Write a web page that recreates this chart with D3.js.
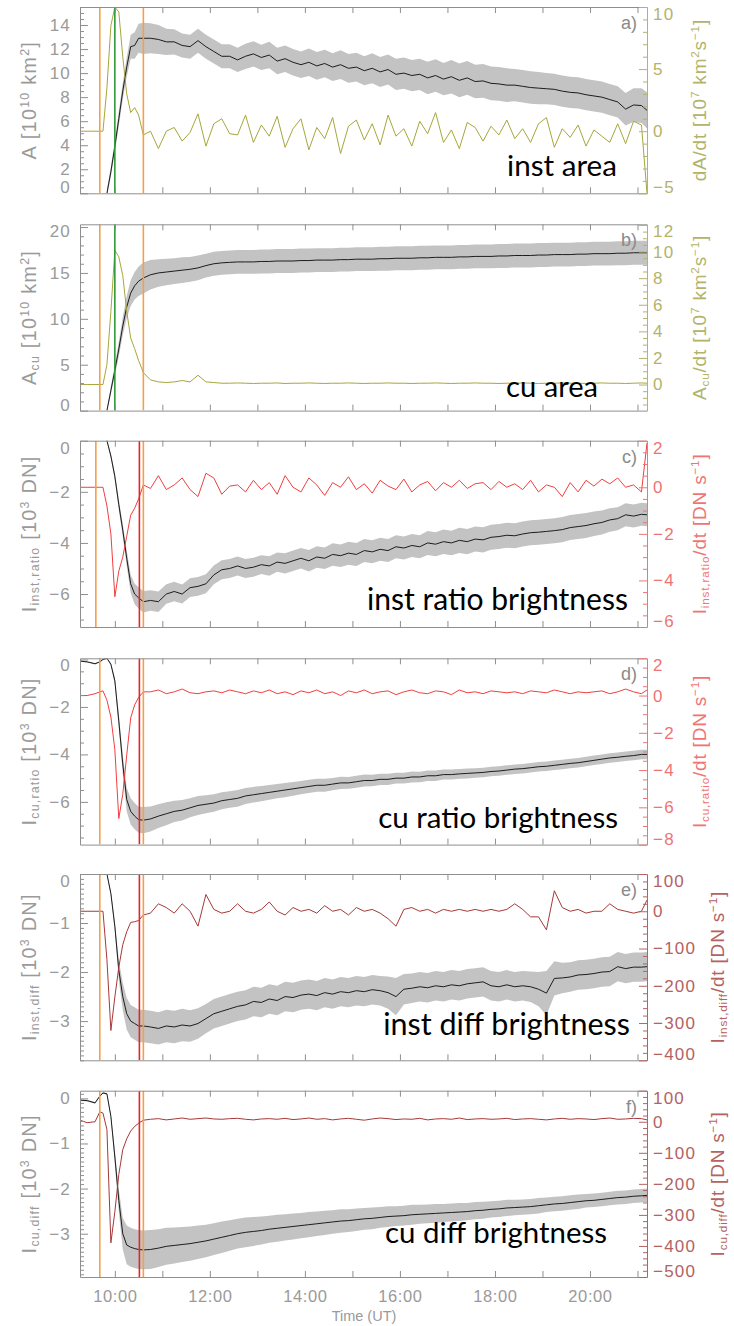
<!DOCTYPE html>
<html><head><meta charset="utf-8">
<script src="https://cdn.jsdelivr.net/npm/d3@7"></script>
<style>body{margin:0;background:#fff}svg{display:block}</style>
</head><body><svg id="c" width="734" height="1326"></svg>
<script>
// ---------- DATA ----------
const times = ["09:16","09:25","09:35","09:41","09:45","09:50","09:55","10:00","10:05","10:10",
"10:15","10:20","10:25","10:30","10:36","10:45","10:55","11:05","11:15","11:25",
"11:35","11:45","11:55","12:05","12:15","12:25","12:35","12:45","12:55","13:05",
"13:15","13:25","13:35","13:45","13:55","14:05","14:15","14:25","14:35","14:45",
"14:55","15:05","15:15","15:25","15:35","15:45","15:55","16:05","16:15","16:25",
"16:35","16:45","16:55","17:05","17:15","17:25","17:35","17:45","17:55","18:05",
"18:15","18:25","18:35","18:45","18:55","19:05","19:15","19:25","19:35","19:45",
"19:55","20:05","20:15","20:25","20:35","20:45","20:55","21:05","21:12"];
const timeTicks = ["10:00","11:00","12:00","13:00","14:00","15:00","16:00","17:00","18:00","19:00","20:00","21:00"];
const timeLabels = ["10:00","12:00","14:00","16:00","18:00","20:00"];

// a) instantaneous area [1e10 km2] and dA/dt [1e7 km2/s]
const areaInst = [null,null,null,null,null,0.0,1.8,3.9,6.2,8.5,
10.5,12.2,12.3,12.9,12.9,12.9,12.8,12.6,12.6,12.3,
12.2,12.7,12.2,11.8,11.4,11.4,11.1,11.4,11.6,11.3,
11.5,11.0,11.2,10.9,10.7,10.9,10.6,10.8,10.5,10.7,
10.4,10.5,10.2,10.4,10.1,10.3,9.9,10.0,9.8,9.9,
9.6,9.8,9.5,9.7,9.4,9.6,9.3,9.35,9.15,9.1,
9.0,9.0,8.9,8.8,8.75,8.7,8.65,8.5,8.4,8.35,
8.2,8.1,8.0,7.8,7.6,7.0,7.35,7.3,6.9];
const errAreaInst = [0,0,0,0,0,0.3,0.4,0.5,0.6,0.7,
0.8,1.0,1.1,1.2,1.3,1.25,1.2,1.1,1.05,1.0,
1.0,1.0,1.0,1.0,1.0,1.0,1.0,1.05,1.05,1.05,
1.1,1.1,1.1,1.1,1.1,1.15,1.15,1.15,1.15,1.2,
1.2,1.2,1.2,1.25,1.25,1.25,1.3,1.3,1.3,1.3,
1.35,1.35,1.35,1.4,1.4,1.4,1.4,1.4,1.4,1.4,
1.4,1.35,1.35,1.35,1.35,1.3,1.3,1.3,1.3,1.3,
1.3,1.3,1.3,1.3,1.3,1.35,1.4,1.45,1.5];
const dAreaInst = [0,0,0,0,0,3.5,8.5,10.0,9.6,6.0,
3.0,1.5,1.9,1.3,-0.3,0.0,-1.4,0.0,0.3,-0.8,
-0.1,1.4,-1.2,0.6,1.0,-0.2,-0.3,1.3,-0.9,0.5,
-0.4,1.2,-1.3,0.2,1.0,-1.5,0.3,-0.6,1.1,-1.8,
0.4,0.9,-0.7,0.6,-1.1,1.3,-0.4,0.2,-1.2,0.8,
-0.2,1.5,-0.9,0.1,-1.4,0.7,0.3,-0.8,0.4,-0.3,
0.9,-0.6,0.2,-0.9,0.6,1.1,-1.3,0.2,-0.5,0.5,
-1.2,0.1,-0.4,-0.9,0.6,-1.0,0.8,0.5,-5.0];

// b) cumulative area
const areaCu = [null,null,null,null,null,0.0,2.2,4.4,6.7,9.2,
11.3,12.8,13.6,14.1,14.45,14.8,15.0,15.1,15.2,15.3,
15.4,15.55,15.8,16.0,16.1,16.15,16.2,16.2,16.2,16.25,
16.25,16.3,16.3,16.3,16.35,16.35,16.4,16.4,16.4,16.45,
16.45,16.5,16.5,16.5,16.55,16.55,16.6,16.6,16.6,16.65,
16.65,16.7,16.7,16.7,16.75,16.75,16.8,16.8,16.8,16.85,
16.85,16.9,16.9,16.9,16.95,16.95,17.0,17.0,17.0,17.05,
17.05,17.1,17.1,17.1,17.15,17.15,17.2,17.2,17.2];
const errAreaCu = [0,0,0,0,0,0.2,0.4,0.6,0.8,1.0,
1.2,1.4,1.5,1.6,1.7,1.6,1.5,1.45,1.4,1.4,
1.35,1.35,1.3,1.3,1.3,1.3,1.3,1.3,1.3,1.3,
1.3,1.3,1.3,1.3,1.3,1.3,1.3,1.3,1.3,1.3,
1.3,1.3,1.3,1.3,1.3,1.3,1.3,1.3,1.3,1.3,
1.3,1.3,1.3,1.3,1.3,1.3,1.3,1.3,1.3,1.3,
1.3,1.3,1.3,1.3,1.3,1.3,1.3,1.3,1.3,1.3,
1.3,1.3,1.3,1.3,1.3,1.3,1.3,1.3,1.3];
const dAreaCu = [0,0,0,0,0,1.5,5.5,10.1,9.6,8.2,
5.5,3.5,2.7,1.8,0.9,0.35,0.2,0.15,0.2,0.3,
0.2,0.7,0.2,0.15,0.1,0.1,0.12,0.1,0.08,0.1,
0.1,0.12,0.08,0.1,0.1,0.12,0.1,0.08,0.1,0.1,
0.12,0.1,0.08,0.1,0.1,0.12,0.1,0.1,0.08,0.1,
0.1,0.12,0.1,0.08,0.1,0.1,0.12,0.1,0.1,0.08,
0.1,0.1,0.12,0.1,0.08,0.1,0.1,0.12,0.1,0.1,
0.08,0.1,0.12,0.1,0.1,0.08,0.1,0.12,0.1];

// c) instantaneous ratio brightness [1e3 DN], derivative [DN/s]
const iInstRatio = [0.3,0.3,0.3,0.3,0.3,0.0,-0.6,-1.4,-2.5,-3.5,
-4.6,-5.6,-6.0,-6.15,-6.3,-6.25,-6.3,-6.0,-5.9,-6.0,
-5.75,-5.7,-5.6,-5.25,-5.05,-5.0,-4.9,-5.0,-4.95,-4.85,
-4.9,-4.75,-4.8,-4.7,-4.6,-4.7,-4.55,-4.6,-4.45,-4.5,
-4.4,-4.45,-4.3,-4.35,-4.25,-4.3,-4.15,-4.2,-4.1,-4.15,
-4.0,-4.05,-3.95,-4.0,-3.9,-3.95,-3.85,-3.88,-3.78,-3.75,
-3.7,-3.72,-3.65,-3.6,-3.58,-3.55,-3.52,-3.48,-3.4,-3.36,
-3.32,-3.25,-3.2,-3.1,-3.05,-2.9,-2.95,-2.88,-2.9];
const errInstRatio = [0,0,0,0,0,0.05,0.1,0.15,0.2,0.25,
0.3,0.35,0.4,0.42,0.42,0.4,0.4,0.38,0.38,0.37,
0.37,0.37,0.37,0.37,0.37,0.37,0.37,0.37,0.37,0.37,
0.38,0.38,0.4,0.4,0.4,0.42,0.42,0.42,0.44,0.44,
0.45,0.45,0.45,0.45,0.45,0.45,0.45,0.45,0.45,0.45,
0.47,0.47,0.48,0.48,0.49,0.49,0.49,0.49,0.49,0.49,
0.49,0.49,0.49,0.49,0.49,0.49,0.49,0.49,0.49,0.49,
0.49,0.48,0.47,0.46,0.45,0.45,0.45,0.45,0.45];
const dInstRatio = [0,0,0,0,0,-0.8,-2.0,-4.7,-3.6,-3.0,
-2.1,-1.2,-0.9,-0.5,0.1,-0.05,0.5,-0.1,0.1,0.4,
-0.1,-0.4,0.6,0.4,-0.3,0.05,0.1,-0.2,0.3,-0.1,
0.2,-0.3,0.5,0.0,-0.2,0.4,0.1,-0.35,0.2,0.0,
0.45,-0.1,0.15,-0.25,0.3,0.05,-0.1,0.35,-0.2,0.1,
0.25,-0.15,0.2,0.0,0.3,-0.05,0.15,0.2,-0.1,0.25,
0.0,0.15,-0.1,0.3,-0.2,0.1,0.0,-0.4,0.2,-0.2,
0.3,0.05,0.35,0.15,0.4,0.0,0.1,-0.2,1.9];

// d) cumulative ratio brightness
const iCuRatio = [-0.07,-0.1,-0.18,-0.1,0.0,0.05,-0.2,-0.9,-2.6,-4.4,
-5.9,-6.4,-6.6,-6.75,-6.77,-6.72,-6.6,-6.5,-6.4,-6.35,
-6.25,-6.15,-6.1,-6.05,-5.95,-5.9,-5.85,-5.75,-5.7,-5.65,
-5.6,-5.55,-5.5,-5.45,-5.4,-5.35,-5.3,-5.3,-5.25,-5.2,
-5.2,-5.15,-5.1,-5.1,-5.05,-5.05,-5.0,-5.0,-4.95,-4.95,
-4.9,-4.9,-4.85,-4.85,-4.82,-4.8,-4.78,-4.76,-4.72,-4.7,
-4.66,-4.62,-4.6,-4.56,-4.52,-4.5,-4.46,-4.42,-4.38,-4.35,
-4.3,-4.25,-4.2,-4.15,-4.12,-4.08,-4.05,-4.0,-4.0];
const errCuRatio = [0.03,0.03,0.03,0.03,0.03,0.03,0.05,0.15,0.3,0.4,
0.5,0.55,0.55,0.55,0.55,0.53,0.5,0.48,0.45,0.43,
0.4,0.4,0.38,0.37,0.36,0.35,0.35,0.34,0.33,0.32,
0.31,0.3,0.3,0.29,0.28,0.28,0.27,0.27,0.26,0.26,
0.25,0.25,0.25,0.24,0.24,0.24,0.23,0.23,0.23,0.22,
0.22,0.22,0.21,0.21,0.21,0.21,0.2,0.2,0.2,0.2,
0.2,0.2,0.2,0.2,0.2,0.2,0.2,0.2,0.2,0.2,
0.2,0.2,0.2,0.2,0.2,0.2,0.2,0.2,0.2];
const dCuRatio = [0.0,0.0,0.1,0.2,0.25,-0.25,-1.15,-2.9,-6.6,-5.3,
-3.2,-1.2,-0.5,-0.1,0.2,0.2,0.3,0.1,0.2,0.35,
0.15,0.1,0.2,0.25,0.15,0.3,0.2,0.1,0.25,0.15,
0.3,0.1,0.2,0.05,0.25,0.15,0.3,0.1,0.2,0.0,
0.25,0.15,0.3,0.1,0.2,0.25,0.05,0.2,0.3,0.15,
0.1,0.25,0.2,0.05,0.3,0.15,0.2,0.1,0.25,0.2,
0.15,0.2,0.1,0.25,0.2,0.15,0.3,0.2,0.1,0.2,
0.15,0.2,0.25,0.1,0.2,0.35,0.2,0.1,0.3];

// e) instantaneous difference brightness
const iInstDiff = [0,0,0,0,0,0,-0.4,-1.07,-1.96,-2.5,
-2.85,-3.0,-3.05,-3.1,-3.1,-3.12,-3.15,-3.1,-3.12,-3.08,
-3.1,-3.05,-2.95,-2.85,-2.8,-2.75,-2.7,-2.67,-2.6,-2.62,
-2.55,-2.58,-2.5,-2.52,-2.47,-2.45,-2.48,-2.42,-2.45,-2.4,
-2.42,-2.38,-2.4,-2.36,-2.38,-2.42,-2.5,-2.35,-2.33,-2.3,
-2.32,-2.28,-2.3,-2.26,-2.28,-2.24,-2.22,-2.2,-2.28,-2.3,
-2.26,-2.3,-2.28,-2.3,-2.35,-2.43,-2.13,-2.12,-2.1,-2.06,
-2.05,-2.03,-2.0,-1.99,-1.89,-1.93,-1.9,-1.9,-1.89];
const errInstDiff = [0.02,0.02,0.02,0.02,0.02,0.02,0.05,0.1,0.2,0.28,
0.32,0.33,0.33,0.33,0.33,0.33,0.33,0.33,0.33,0.33,
0.32,0.31,0.3,0.3,0.3,0.3,0.3,0.3,0.3,0.3,
0.3,0.3,0.3,0.3,0.3,0.3,0.3,0.3,0.3,0.3,
0.3,0.3,0.3,0.3,0.3,0.33,0.38,0.31,0.3,0.3,
0.3,0.3,0.3,0.3,0.3,0.3,0.3,0.3,0.3,0.3,
0.3,0.3,0.3,0.31,0.35,0.45,0.35,0.31,0.3,0.3,
0.3,0.3,0.3,0.3,0.3,0.3,0.3,0.3,0.3];
const dInstDiff = [0,0,0,0,0,-130,-320,-230,-150,-90,
-55,-30,-28,-25,-10,-5,20,10,-5,20,
0,-40,45,5,-5,0,20,0,-5,5,
25,0,-10,10,0,5,-5,15,0,5,
-10,10,0,5,-5,-20,-40,5,10,0,
5,-5,5,0,5,0,5,0,5,0,
5,20,5,-15,-15,-50,55,10,0,5,
-5,0,0,20,5,0,-5,0,30];

// f) cumulative difference brightness
const iCuDiff = [-0.04,-0.05,-0.1,0.05,0.12,0.1,-0.4,-1.3,-2.26,-3.0,
-3.25,-3.3,-3.33,-3.35,-3.36,-3.35,-3.32,-3.28,-3.26,-3.24,
-3.22,-3.19,-3.16,-3.12,-3.08,-3.04,-3.0,-2.97,-2.95,-2.93,
-2.9,-2.88,-2.86,-2.84,-2.82,-2.8,-2.78,-2.76,-2.74,-2.72,
-2.71,-2.69,-2.67,-2.66,-2.64,-2.62,-2.61,-2.6,-2.58,-2.57,
-2.56,-2.55,-2.54,-2.53,-2.52,-2.51,-2.49,-2.48,-2.46,-2.45,
-2.43,-2.42,-2.41,-2.4,-2.38,-2.36,-2.34,-2.33,-2.31,-2.29,
-2.27,-2.26,-2.24,-2.22,-2.2,-2.19,-2.17,-2.16,-2.15];
const errCuDiff = [0.02,0.02,0.02,0.02,0.02,0.02,0.05,0.15,0.25,0.35,
0.43,0.43,0.43,0.43,0.43,0.43,0.42,0.41,0.4,0.39,
0.38,0.37,0.36,0.35,0.35,0.34,0.33,0.33,0.32,0.31,
0.3,0.3,0.29,0.29,0.28,0.28,0.27,0.27,0.26,0.26,
0.25,0.25,0.24,0.24,0.23,0.23,0.22,0.22,0.22,0.21,
0.21,0.21,0.2,0.2,0.2,0.19,0.19,0.19,0.18,0.18,
0.18,0.17,0.17,0.17,0.17,0.16,0.16,0.16,0.16,0.16,
0.15,0.15,0.15,0.15,0.15,0.15,0.15,0.15,0.15];
const dCuDiff = [5,-3,0,32,28,-25,-390,-290,-170,-90,
-55,-30,-15,-5,5,8,10,6,9,12,
8,10,12,9,8,10,11,8,6,9,
10,8,11,7,9,12,8,10,6,9,
11,8,5,9,12,10,7,9,8,11,
6,9,10,8,12,7,9,10,8,9,
11,7,9,10,8,6,9,11,8,10,
9,7,10,12,8,9,11,10,6];

// event markers (times)
const eventsAB = ["09:41","10:00","10:36"];
const eventsC  = ["09:36","10:31","10:36"];
const eventsDEF = ["09:41","10:31","10:36"];

// ---------- RENDER ----------
const L = 80, R = 647, PH = 186.3;
const tops = [7, 224.3, 440.7, 658.3, 874, 1090.7];
const parseT = s => { const [h, m] = s.split(":").map(Number); return h + m / 60; };
const T = times.map(parseT);
const x = d3.scaleLinear().domain([parseT(times[0]), parseT(times[times.length - 1])]).range([L, R]);
const svg = d3.select("#c");
const GREY = "#8f8f8f", TICKC = "#9a9a9a";
const ORANGE = "#f4a04a", GREEN = "#2f9a3a", RED = "#e8222a";
const OLIVE = {line: "#a6a63c", axis: "#b3b36a"};
const LRED = {line: "#f23e3e", axis: "#f07474"};
const DRED = {line: "#a63838", axis: "#b46262"};
const FONT = "Liberation Sans, Arial, sans-serif";

const sup = s => ({t: s, k: "sup"}), sub = s => ({t: s, k: "sub"}), n = s => ({t: s, k: ""});
const panels = [
 {main: areaInst, err: errAreaInst, der: dAreaInst, yL: [0, 15.5], lMaj: 2, lMin: 0.5, yR: [-5, 10], rMaj: 5, rMin: 1,
  col: OLIVE, ev: eventsAB, evc: [ORANGE, GREEN, ORANGE], letter: "a)", ann: "inst area", annEnd: 617, annBase: 176, annW: 110, rtx: 706,
  lt: [n("A  [10"), sup("10"), n(" km"), sup("2"), n("]")],
  rt: [n("dA/dt  [10"), sup("7"), n(" km"), sup("2"), n("s"), sup("\u22121"), n("]")]},
 {main: areaCu, err: errAreaCu, der: dAreaCu, yL: [0, 20.3], lMaj: 5, lMin: 1, yR: [-1.96, 12.05], rMaj: 2, rMin: 0.5,
  col: OLIVE, ev: eventsAB, evc: [ORANGE, GREEN, ORANGE], letter: "b)", ann: "cu area", annEnd: 598, annBase: 397, annW: 92, rtx: 706,
  lt: [n("A"), sub("cu"), n("  [10"), sup("10"), n(" km"), sup("2"), n("]")],
  rt: [n("A"), sub("cu"), n("/dt  [10"), sup("7"), n(" km"), sup("2"), n("s"), sup("\u22121"), n("]")]},
 {main: iInstRatio, err: errInstRatio, der: dInstRatio, yL: [-7.29, 0], lMaj: 2, lMin: 0.5, yR: [-6, 2], rMaj: 2, rMin: 0.5,
  col: LRED, ev: eventsC, evc: [ORANGE, RED, ORANGE], letter: "c)", ann: "inst ratio brightness", annEnd: 628, annBase: 610, annW: 261, rtx: 706,
  lt: [n("I"), sub("inst,ratio"), n("  [10"), sup("3"), n(" DN]")],
  rt: [n("I"), sub("inst,ratio"), n("/dt  [DN s"), sup("\u22121"), n("]")]},
 {main: iCuRatio, err: errCuRatio, der: dCuRatio, yL: [-7.8, 0.05], lMaj: 2, lMin: 0.5, yR: [-8, 2], rMaj: 2, rMin: 0.5,
  col: LRED, ev: eventsDEF, evc: [ORANGE, RED, ORANGE], letter: "d)", ann: "cu ratio brightness", annEnd: 618, annBase: 828, annW: 240, rtx: 706,
  lt: [n("I"), sub("cu,ratio"), n("  [10"), sup("3"), n(" DN]")],
  rt: [n("I"), sub("cu,ratio"), n("/dt  [DN s"), sup("\u22121"), n("]")]},
 {main: iInstDiff, err: errInstDiff, der: dInstDiff, yL: [-3.8, 0], lMaj: 1, lMin: 0.1, yR: [-400, 100], rMaj: 100, rMin: 20,
  col: DRED, ev: eventsDEF, evc: [ORANGE, RED, ORANGE], letter: "e)", ann: "inst diff brightness", annEnd: 630, annBase: 1035, annW: 247, rtx: 724,
  lt: [n("I"), sub("inst,diff"), n("  [10"), sup("3"), n(" DN]")],
  rt: [n("I"), sub("inst,diff"), n("/dt  [DN s"), sup("\u22121"), n("]")]},
 {main: iCuDiff, err: errCuDiff, der: dCuDiff, yL: [-3.96, 0.17], lMaj: 1, lMin: 0.1, yR: [-500, 100], rMaj: 100, rMin: 20,
  col: DRED, ev: eventsDEF, evc: [ORANGE, RED, ORANGE], letter: "f)", ann: "cu diff brightness", annEnd: 607, annBase: 1243, annW: 222, rtx: 724,
  lt: [n("I"), sub("cu,diff"), n("  [10"), sup("3"), n(" DN]")],
  rt: [n("I"), sub("cu,diff"), n("/dt  [DN s"), sup("\u22121"), n("]")]}
];

function stepTicks(dom, step) {
  const lo = Math.min(dom[0], dom[1]), hi = Math.max(dom[0], dom[1]);
  const out = [];
  for (let k = Math.ceil(lo / step - 1e-9); k * step <= hi + 1e-9; k++) out.push(+(k * step).toFixed(6));
  return out;
}
function richText(sel, parts, size) {
  parts.forEach(p => {
    const ts = sel.append("tspan").text(p.t);
    if (p.k === "sup") ts.attr("font-size", size * 0.62).attr("baseline-shift", "55%");
    if (p.k === "sub") ts.attr("font-size", size * 0.62).attr("baseline-shift", "-28%");
  });
}
const fmt = d3.format("d");
const idx = d3.range(T.length);

panels.forEach((p, i) => {
  const top = tops[i], bot = top + PH;
  const yL = d3.scaleLinear().domain(p.yL).range([bot, top]);
  const yR = d3.scaleLinear().domain(p.yR).range([bot, top]);
  const g = svg.append("g");
  const cid = "clip" + i;
  svg.append("clipPath").attr("id", cid).append("rect").attr("x", L).attr("y", top).attr("width", R - L).attr("height", PH);
  const pc = g.append("g").attr("clip-path", `url(#${cid})`);

  pc.append("path").datum(idx)
    .attr("d", d3.area().defined(k => p.main[k] != null).x(k => x(T[k]))
      .y0(k => yL(p.main[k] - p.err[k])).y1(k => yL(p.main[k] + p.err[k])))
    .attr("fill", "#c3c3c3");
  pc.append("path").datum(idx)
    .attr("d", d3.line().defined(k => p.main[k] != null).x(k => x(T[k])).y(k => yL(p.main[k])))
    .attr("fill", "none").attr("stroke", "#1c1c1c").attr("stroke-width", 1);
  pc.append("path").datum(idx)
    .attr("d", d3.line().x(k => x(T[k])).y(k => yR(p.der[k])))
    .attr("fill", "none").attr("stroke", p.col.line).attr("stroke-width", 1);
  p.ev.forEach((t, j) => {
    const xx = x(parseT(t));
    pc.append("line").attr("x1", xx).attr("x2", xx).attr("y1", top).attr("y2", bot)
      .attr("stroke", p.evc[j]).attr("stroke-width", 1.6);
  });

  // time axes (top and bottom), ticks inward
  const tv = timeTicks.map(parseT);
  const axB = g.append("g").attr("transform", `translate(0,${bot})`)
    .call(d3.axisBottom(x).tickValues(tv).tickSize(-6).tickSizeOuter(0).tickFormat(""));
  const axT = g.append("g").attr("transform", `translate(0,${top})`)
    .call(d3.axisTop(x).tickValues(tv).tickSize(-6).tickSizeOuter(0).tickFormat(""));
  [axB, axT].forEach(a => { a.selectAll("line").attr("stroke", GREY); a.select(".domain").attr("stroke", GREY); });
  if (i === panels.length - 1) {
    const lab = g.append("g").attr("transform", `translate(0,${bot})`)
      .call(d3.axisBottom(x).tickValues(timeLabels.map(parseT)).tickSize(0).tickPadding(13)
        .tickFormat((d, j) => timeLabels[j]));
    lab.select(".domain").remove();
    lab.selectAll("text").attr("fill", TICKC).attr("font-family", FONT)
      .attr("font-size", 16.5).attr("letter-spacing", 0.6);
  }

  // left axis
  const lMaj = stepTicks(p.yL, p.lMaj), lMin = stepTicks(p.yL, p.lMin).filter(v => !lMaj.some(m => Math.abs(m - v) < 1e-6));
  const axL = g.append("g").attr("transform", `translate(${L},0)`)
    .call(d3.axisLeft(yL).tickValues(lMaj).tickSize(-8).tickSizeOuter(0).tickPadding(9).tickFormat(fmt));
  g.append("g").attr("transform", `translate(${L},0)`)
    .call(d3.axisLeft(yL).tickValues(lMin).tickSize(-4).tickSizeOuter(0).tickFormat(""))
    .call(a => { a.select(".domain").remove(); a.selectAll("line").attr("stroke", GREY); });
  axL.selectAll("line").attr("stroke", GREY);
  axL.select(".domain").attr("stroke", GREY);
  axL.selectAll("text").attr("fill", TICKC).attr("font-family", FONT)
    .attr("font-size", 17).attr("letter-spacing", 1.2)
    .attr("y", d => { const yy = yL(d); return yy < top + 7 ? top + 7 - yy : (yy > bot - 6 ? bot - 6 - yy : 0); });

  // right axis
  const rMaj = stepTicks(p.yR, p.rMaj), rMin = stepTicks(p.yR, p.rMin).filter(v => !rMaj.some(m => Math.abs(m - v) < 1e-6));
  const axR = g.append("g").attr("transform", `translate(${R},0)`)
    .call(d3.axisRight(yR).tickValues(rMaj).tickSize(-8).tickSizeOuter(0).tickPadding(6).tickFormat(fmt));
  g.append("g").attr("transform", `translate(${R},0)`)
    .call(d3.axisRight(yR).tickValues(rMin).tickSize(-4).tickSizeOuter(0).tickFormat(""))
    .call(a => { a.select(".domain").remove(); a.selectAll("line").attr("stroke", p.col.axis); });
  axR.selectAll("line").attr("stroke", p.col.axis);
  axR.select(".domain").attr("stroke", p.col.axis);
  axR.selectAll("text").attr("fill", p.col.axis).attr("font-family", FONT)
    .attr("font-size", 17).attr("letter-spacing", 1.2)
    .attr("y", d => { const yy = yR(d); return yy < top + 7 ? top + 7 - yy : (yy > bot - 6 ? bot - 6 - yy : 0); });

  // axis titles
  const cy = (top + bot) / 2;
  const lt = g.append("text").attr("transform", `translate(36,${cy}) rotate(-90)`).attr("text-anchor", "middle")
    .attr("fill", TICKC).attr("font-family", FONT).attr("font-size", 20).attr("letter-spacing", 1.2);
  richText(lt, p.lt, 20);
  const rt = g.append("text").attr("transform", `translate(${p.rtx},${cy}) rotate(-90)`).attr("text-anchor", "middle")
    .attr("fill", p.col.axis).attr("font-family", FONT).attr("font-size", 19).attr("letter-spacing", 0.8);
  richText(rt, p.rt, 19);

  // panel letter
  g.append("text").attr("x", 637).attr("y", top + 22).attr("text-anchor", "end").attr("fill", "#8a8a8a")
    .attr("font-family", FONT).attr("font-size", 18).text(p.letter);

  // annotation
  const an = g.append("text").attr("x", p.annEnd).attr("y", p.annBase).attr("text-anchor", "end")
    .attr("fill", "#000").attr("font-family", "Lato, 'Open Sans', sans-serif").attr("font-size", 30).text(p.ann);
  const w = an.node().getComputedTextLength();
  an.attr("font-size", 30 * p.annW / w);
});

svg.append("text").attr("x", 364).attr("y", 1321).attr("text-anchor", "middle").attr("fill", TICKC)
  .attr("font-family", FONT).attr("font-size", 14.5).text("Time (UT)");
</script></body></html>
